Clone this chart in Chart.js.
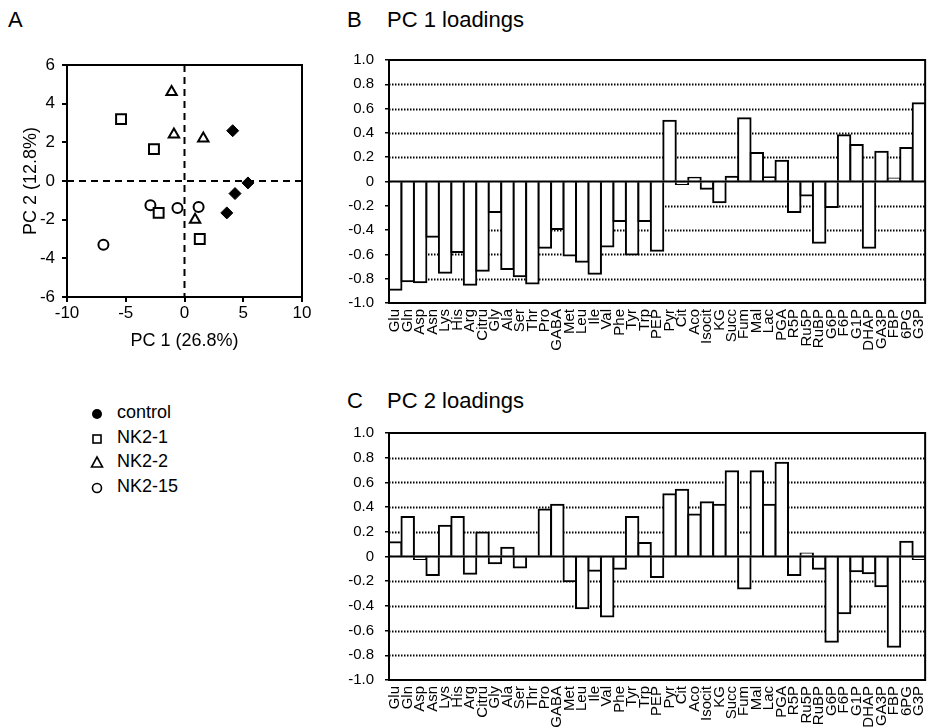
<!DOCTYPE html>
<html>
<head>
<meta charset="utf-8">
<script src="https://cdn.jsdelivr.net/npm/chart.js@4"></script>
<style>
body{margin:0;background:#fff;font-family:"Liberation Sans",Arial,sans-serif;color:#000;}
#wrap{position:relative;width:943px;height:727px;overflow:hidden;}
canvas{position:absolute;}
.lbl{position:absolute;font-size:22px;line-height:22px;white-space:nowrap;}
.leg{position:absolute;left:87px;height:24px;display:flex;align-items:center;font-size:18px;}
.leg span{margin-left:10px;}
</style>
</head>
<body>
<div id="wrap">
<div class="lbl" style="left:8px;top:9px">A</div>
<div class="lbl" style="left:347px;top:9px">B</div>
<div class="lbl" style="left:387px;top:9px">PC 1 loadings</div>
<div class="lbl" style="left:347px;top:390px">C</div>
<div class="lbl" style="left:387px;top:390px">PC 2 loadings</div>

<div class="leg" style="top:400px"><svg width="20" height="24"><circle cx="10" cy="14" r="5" fill="#000"/></svg><span>control</span></div>
<div class="leg" style="top:425px"><svg width="20" height="24"><rect x="6" y="10" width="8" height="8" fill="none" stroke="#000" stroke-width="1.6"/></svg><span>NK2-1</span></div>
<div class="leg" style="top:449px"><svg width="20" height="24"><polygon points="10,8 15.5,18 4.5,18" fill="none" stroke="#000" stroke-width="1.6"/></svg><span>NK2-2</span></div>
<div class="leg" style="top:474px"><svg width="20" height="24"><circle cx="10" cy="14" r="4.5" fill="none" stroke="#000" stroke-width="1.6"/></svg><span>NK2-15</span></div>

<canvas id="scoreChart" width="320" height="320" style="left:0;top:40px"></canvas>
<canvas id="pc1Chart" width="623" height="330" style="left:320px;top:40px"></canvas>
<canvas id="pc2Chart" width="623" height="347" style="left:320px;top:380px"></canvas>
</div>

<script>
const metabolites=["Glu","Gln","Asp","Asn","Lys","His","Arg","Citru","Gly","Ala","Ser","Thr","Pro","GABA","Met","Leu","Ile","Val","Phe","Tyr","Trp","PEP","Pyr","Cit","Aco","Isocit","KG","Succ","Fum","Mal","Lac","PGA","R5P","Ru5P","RuBP","G6P","F6P","G1P","DHAP","GA3P","FBP","6PG","G3P"];

const pc1Loadings=[-0.89,-0.82,-0.83,-0.455,-0.75,-0.58,-0.85,-0.735,-0.25,-0.72,-0.78,-0.84,-0.545,-0.39,-0.61,-0.66,-0.76,-0.535,-0.325,-0.60,-0.325,-0.57,0.50,-0.02,0.03,-0.06,-0.17,0.04,0.52,0.235,0.035,0.17,-0.25,-0.115,-0.505,-0.21,0.38,0.30,-0.545,0.245,0.025,0.275,0.645];

const pc2Loadings=[0.115,0.32,-0.02,-0.15,0.25,0.32,-0.14,0.195,-0.055,0.07,-0.09,0,0.38,0.42,-0.2,-0.42,-0.115,-0.485,-0.10,0.32,0.11,-0.165,0.505,0.54,0.34,0.44,0.42,0.69,-0.26,0.69,0.42,0.76,-0.15,0.025,-0.10,-0.69,-0.46,-0.12,-0.135,-0.24,-0.73,0.12,-0.02];

// PC1 / PC2 scores
const controlScores=[[4.1,2.6],[5.4,-0.1],[4.3,-0.65],[3.6,-1.65]];
const nk21Scores=[[-5.4,3.2],[-2.6,1.65],[-2.2,-1.65],[1.3,-3.0]];
const nk22Scores=[[-1.1,4.6],[-0.9,2.4],[1.6,2.2],[0.9,-2.0]];
const nk215Scores=[[-2.9,-1.25],[-0.6,-1.4],[1.2,-1.35],[-6.9,-3.3]];

const pc1Label="PC 1 (26.8%)";
const pc2Label="PC 2 (12.8%)";

Chart.defaults.font.family='"Liberation Sans", Arial, sans-serif';
Chart.defaults.color="#000";
Chart.defaults.animation=false;

const framePlugin={
id:"frame",
afterDraw(chart){
const a=chart.chartArea;
const ctx=chart.ctx;
ctx.save();
ctx.strokeStyle="#000";
ctx.lineWidth=2;
ctx.strokeRect(a.left,a.top,a.right-a.left,a.bottom-a.top);
ctx.restore();
}
};

const zeroCrossPlugin={
id:"zeroCross",
beforeDatasetsDraw(chart){
const a=chart.chartArea;
const ctx=chart.ctx;
const x0=chart.scales.x.getPixelForValue(0);
const y0=chart.scales.y.getPixelForValue(0);
ctx.save();
ctx.strokeStyle="#000";
ctx.lineWidth=2;
ctx.setLineDash([7,5]);
ctx.beginPath();
ctx.moveTo(a.left,y0);ctx.lineTo(a.right,y0);
ctx.moveTo(x0,a.top);ctx.lineTo(x0,a.bottom);
ctx.stroke();
ctx.restore();
}
};

const loadGridPlugin={
id:"loadGrid",
beforeDatasetsDraw(chart){
const a=chart.chartArea;
const ctx=chart.ctx;
const y=chart.scales.y;
ctx.save();
ctx.strokeStyle="#000";
ctx.lineWidth=1.8;
ctx.setLineDash([1.5,1.5]);
y.ticks.forEach(t=>{
const v=Math.round(t.value*10)/10;
if(v===0||Math.abs(v)===1) return;
const py=Math.round(y.getPixelForValue(v))+0.5;
ctx.beginPath();
ctx.moveTo(a.left,py);ctx.lineTo(a.right,py);
ctx.stroke();
});
ctx.restore();
},
afterDatasetsDraw(chart){
const a=chart.chartArea;
const ctx=chart.ctx;
const py=chart.scales.y.getPixelForValue(0);
ctx.save();
ctx.strokeStyle="#000";
ctx.lineWidth=2;
ctx.beginPath();
ctx.moveTo(a.left,py);ctx.lineTo(a.right,py);
ctx.stroke();
ctx.restore();
}
};

function toPoints(list){
return list.map(p=>({x:p[0],y:p[1]}));
}

new Chart(document.getElementById("scoreChart"),{
type:"scatter",
data:{
datasets:[
{label:"control",data:toPoints(controlScores),pointStyle:"rectRot",radius:6,backgroundColor:"#000",borderColor:"#000",borderWidth:1},
{label:"NK2-1",data:toPoints(nk21Scores),pointStyle:"rect",radius:7,backgroundColor:"#fff",borderColor:"#000",borderWidth:2},
{label:"NK2-2",data:toPoints(nk22Scores),pointStyle:"triangle",radius:6,backgroundColor:"#fff",borderColor:"#000",borderWidth:2},
{label:"NK2-15",data:toPoints(nk215Scores),pointStyle:"circle",radius:5,backgroundColor:"#fff",borderColor:"#000",borderWidth:2}
]
},
options:{
responsive:false,
layout:{padding:{top:25,right:18,left:0,bottom:0}},
plugins:{legend:{display:false},tooltip:{enabled:false}},
scales:{
x:{
min:-10,max:10,
ticks:{stepSize:5,font:{size:17},padding:1,maxRotation:0},
grid:{drawOnChartArea:false,drawTicks:true,tickLength:5,color:"#000",lineWidth:2},
border:{display:false},
title:{display:true,text:pc1Label,font:{size:18},padding:{top:0,bottom:8}},
afterFit(s){s.height=63;}
},
y:{
min:-6,max:6,
ticks:{stepSize:2,font:{size:17},padding:7},
grid:{drawOnChartArea:false,drawTicks:true,tickLength:5,color:"#000",lineWidth:2},
border:{display:false},
title:{display:true,text:pc2Label,font:{size:18},padding:{top:20,bottom:0}},
afterFit(s){s.width=67;}
}
}
},
plugins:[zeroCrossPlugin,framePlugin]
});

function loadingsChart(id,values,padTop,xHeight){
return new Chart(document.getElementById(id),{
type:"bar",
data:{
labels:metabolites,
datasets:[{
data:values,
backgroundColor:"#fff",
borderColor:"#000",
borderWidth:2,
inflateAmount:1,
barPercentage:1,
categoryPercentage:1
}]
},
options:{
responsive:false,
layout:{padding:{top:padTop,right:8,left:0,bottom:0}},
plugins:{legend:{display:false},tooltip:{enabled:false}},
scales:{
x:{
ticks:{autoSkip:false,maxRotation:90,minRotation:90,font:{size:15},padding:6},
grid:{display:false,drawTicks:false},
border:{display:false},
afterFit(s){s.height=xHeight;}
},
y:{
min:-1,max:1,
ticks:{
stepSize:0.2,font:{size:15},padding:11,
callback:v=>{const r=Math.round(v*10)/10;return r===0?"0":r.toFixed(1);}
},
grid:{drawOnChartArea:false,drawTicks:true,tickLength:4,color:"#000",lineWidth:1.5},
border:{display:false},
afterFit(s){s.width=69;}
}
}
},
plugins:[loadGridPlugin,framePlugin]
});
}

loadingsChart("pc1Chart",pc1Loadings,17,67);
loadingsChart("pc2Chart",pc2Loadings,53,47);
</script>
</body>
</html>
